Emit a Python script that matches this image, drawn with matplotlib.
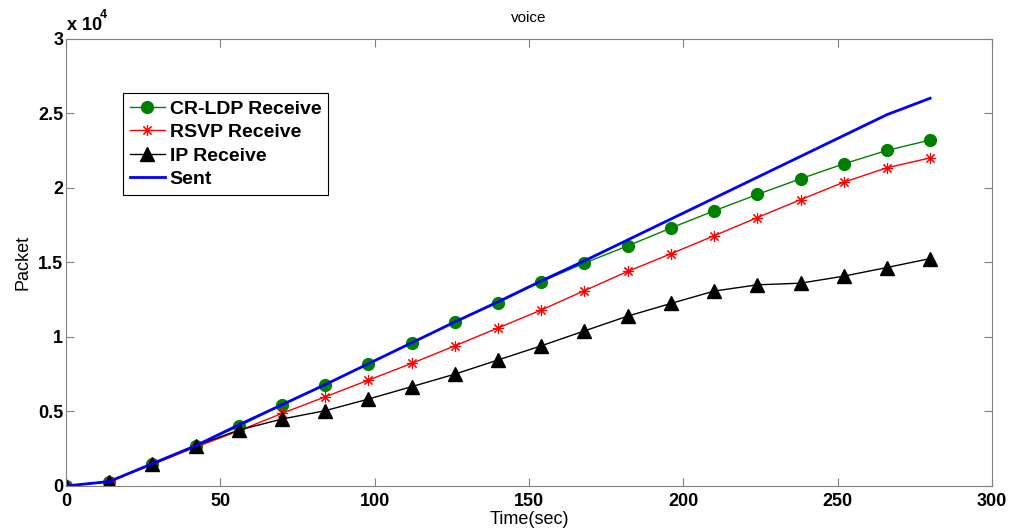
import matplotlib.pyplot as plt
from matplotlib.ticker import FuncFormatter

plt.rcParams['font.family'] = ['Liberation Sans', 'DejaVu Sans']

# time samples (sec)
t = [0, 14, 28, 42, 56, 70, 84, 98, 112, 126, 140, 154, 168, 182, 196, 210, 224, 238, 252, 266, 280]

# packets (x 10^4 on the axis)
crldp = [0, 300, 1500, 2700, 4000, 5450, 6800, 8200, 9600, 11000, 12300, 13700,
         14950, 16100, 17300, 18450, 19550, 20600, 21600, 22500, 23200]
rsvp = [0, 300, 1450, 2600, 3700, 4870, 5980, 7100, 8220, 9400, 10600, 11800,
        13100, 14390, 15570, 16780, 18000, 19200, 20370, 21340, 22000]
ip = [0, 300, 1450, 2700, 3750, 4490, 5050, 5830, 6660, 7500, 8450, 9400,
      10400, 11390, 12240, 13070, 13490, 13600, 14070, 14650, 15250]
sent = [0, 300, 1500, 2700, 4100, 5450, 6800, 8200, 9600, 11000, 12350, 13750,
        15100, 16500, 17900, 19300, 20700, 22100, 23500, 24900, 26000]

fig = plt.figure(figsize=(10.09, 5.29), dpi=100)
ax = fig.add_axes([0.0654, 0.0813, 0.9176, 0.8457])

ax.plot(t, crldp, color='green', lw=1, marker='o', ms=8.5, label='CR-LDP Receive')
ax.plot(t, rsvp, color='red', lw=1, marker=(8, 2, 0), ms=8, mew=0.8, label='RSVP Receive')
ax.plot(t, ip, color='black', lw=1, marker='^', ms=10, label='IP Receive')
ax.plot(t, sent, color='blue', lw=2, label='Sent')

ax.set_xlim(0, 300)
ax.set_ylim(0, 30000)
ax.set_xticks(range(0, 301, 50))
ax.set_yticks(range(0, 30001, 5000))
ax.yaxis.set_major_formatter(FuncFormatter(lambda v, p: '%g' % (v / 1e4)))

for s in ax.spines.values():
    s.set_color('#808080')
ax.tick_params(direction='in', length=6, color='#808080', top=True, right=True,
               labelsize=13)
for lab in ax.get_xticklabels() + ax.get_yticklabels():
    lab.set_fontweight('bold')
ax.tick_params(axis='x', pad=5)
ax.tick_params(axis='y', pad=2)

ax.text(0.001, 1.01, 'x 10', transform=ax.transAxes, fontsize=13, fontweight='bold',
        ha='left', va='bottom')
ax.text(0.037, 1.04, '4', transform=ax.transAxes, fontsize=9, fontweight='bold',
        ha='left', va='bottom')

ax.set_title('voice', fontsize=11, pad=12)
ax.set_xlabel('Time(sec)', fontsize=13, labelpad=1)
ax.set_ylabel('Packet', fontsize=13, labelpad=5)

leg = ax.legend(loc='upper left', bbox_to_anchor=(0.0616, 0.878), fancybox=False,
                edgecolor='black', framealpha=1, borderpad=0.35, labelspacing=0.3,
                handlelength=1.8, handletextpad=0.25, borderaxespad=0,
                prop={'weight': 'bold', 'size': 14})
leg.get_frame().set_linewidth(0.8)

fig.savefig('out.png', dpi=100)
